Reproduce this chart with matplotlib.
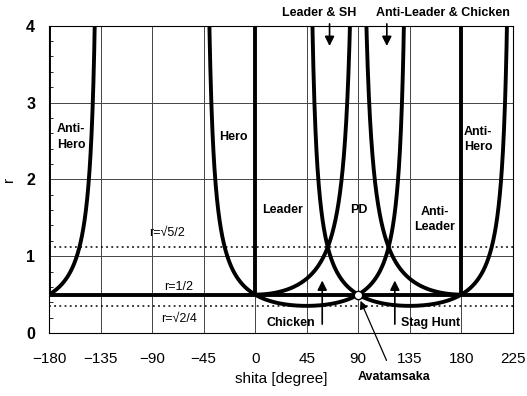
import matplotlib
matplotlib.use('Agg')
import matplotlib.pyplot as plt
import numpy as np

plt.rcParams['font.family'] = ['Liberation Sans', 'DejaVu Sans']

# boundary curves: r = 1 / (2 * (a*cos + b*sin)), given as (a, b, theta ranges)
curves = [
    (1, 1, [(-44.5, 134.5)]),
    (-1, 1, [(-180, -135.5), (45.5, 224.5)]),
    (1, 0, [(0, 89.5)]),
    (-1, 0, [(90.5, 180)]),
]
# thick straight borders
v_borders = [-180, 0, 180]
h_border = 0.5
dotted_r = [np.sqrt(5) / 2, np.sqrt(2) / 4]

xticks = [-180, -135, -90, -45, 0, 45, 90, 135, 180, 225]
yticks = [0, 1, 2, 3, 4]

# region labels (text, theta, r)
regions = [
    ("Anti-\nHero", -173, 2.55, 'left'),
    ("Hero", -19, 2.55, 'center'),
    ("Leader", 24, 1.6, 'center'),
    ("PD", 90.5, 1.6, 'center'),
    ("Anti-\nLeader", 157, 1.48, 'center'),
    ("Anti-\nHero", 182.5, 2.52, 'left'),
]

fig = plt.figure(figsize=(5.27, 3.96), dpi=100)
ax = fig.add_axes([0.093, 0.159, 0.88, 0.776])

for a, b, ranges in curves:
    for lo, hi in ranges:
        th = np.linspace(lo, hi, 800)
        t = np.radians(th)
        r = 1.0 / (2 * (a * np.cos(t) + b * np.sin(t)))
        r[(r > 4.5) | (r < 0)] = np.nan
        ax.plot(th, r, color='black', lw=2.8, solid_capstyle='butt')

for v in v_borders:
    ax.plot([v, v], [h_border, 4], color='black', lw=2.8, solid_capstyle='butt')
ax.plot([-180, 225], [h_border, h_border], color='black', lw=2.8)

for d in dotted_r:
    ax.plot([-180, 225], [d, d], color='black', lw=1.1, ls=(0, (1.2, 2.2)))

ax.set_xlim(-180, 225)
ax.set_ylim(0, 4)
ax.set_xticks(xticks)
ax.set_yticks(yticks)
ax.set_yticks(np.arange(0, 4.01, 0.2), minor=True)
ax.grid(True, which='major', color='#444444', lw=0.7)
ax.tick_params(axis='x', length=0, labelsize=11, pad=14)
ax.tick_params(axis='y', which='major', length=0, labelsize=11.5, pad=10)
ax.tick_params(axis='y', which='minor', direction='in', length=3, width=0.6)
for lab in ax.get_yticklabels():
    lab.set_fontweight('bold')
for sp in ax.spines.values():
    sp.set_linewidth(0.8)

ax.set_xlabel("shita [degree]", fontsize=11, labelpad=4)
ax.set_ylabel("r", fontsize=11)
ax.yaxis.set_label_coords(-0.072, 0.5)

for txt, x, y, ha in regions:
    ax.text(x, y, txt, fontsize=9, fontweight='bold', ha=ha, va='center',
            linespacing=1.4)

ax.text(-77, 1.3, "r=√5/2", fontsize=9, ha='center', va='center')
ax.text(-67, 0.6, "r=1/2", fontsize=9, ha='center', va='center')
ax.text(-66, 0.18, "r=√2/4", fontsize=9, ha='center', va='center')

ax.text(31, 0.13, "Chicken", fontsize=9, fontweight='bold', ha='center', va='center')
ax.text(153, 0.13, "Stag Hunt", fontsize=9, fontweight='bold', ha='center', va='center')

arrow = dict(arrowstyle='-|>', color='black', lw=1.2, mutation_scale=14)
ax.annotate("", xy=(58.6, 0.72), xytext=(58.6, 0.08), arrowprops=arrow)
ax.annotate("", xy=(122, 0.72), xytext=(122, 0.08), arrowprops=arrow)
ax.annotate("", xy=(65, 3.7), xytext=(65, 4.06), arrowprops=arrow,
            annotation_clip=False)
ax.annotate("", xy=(115, 3.7), xytext=(115, 4.06), arrowprops=arrow,
            annotation_clip=False)

ax.text(56, 4.16, "Leader & SH", fontsize=9, fontweight='bold',
        ha='center', va='center', clip_on=False)
ax.text(164, 4.16, "Anti-Leader & Chicken", fontsize=9, fontweight='bold',
        ha='center', va='center', clip_on=False)

ax.annotate("Avatamsaka", xy=(92, 0.42), xytext=(121, -0.57),
            fontsize=9, fontweight='bold', ha='center', va='center',
            arrowprops=dict(arrowstyle='-|>', color='black', lw=0.9,
                            mutation_scale=12, shrinkA=6, shrinkB=0),
            annotation_clip=False)

ax.plot([90], [0.5], marker='o', ms=6, mfc='white', mec='black', mew=1, zorder=5)

fig.savefig('out.png', dpi=100)
